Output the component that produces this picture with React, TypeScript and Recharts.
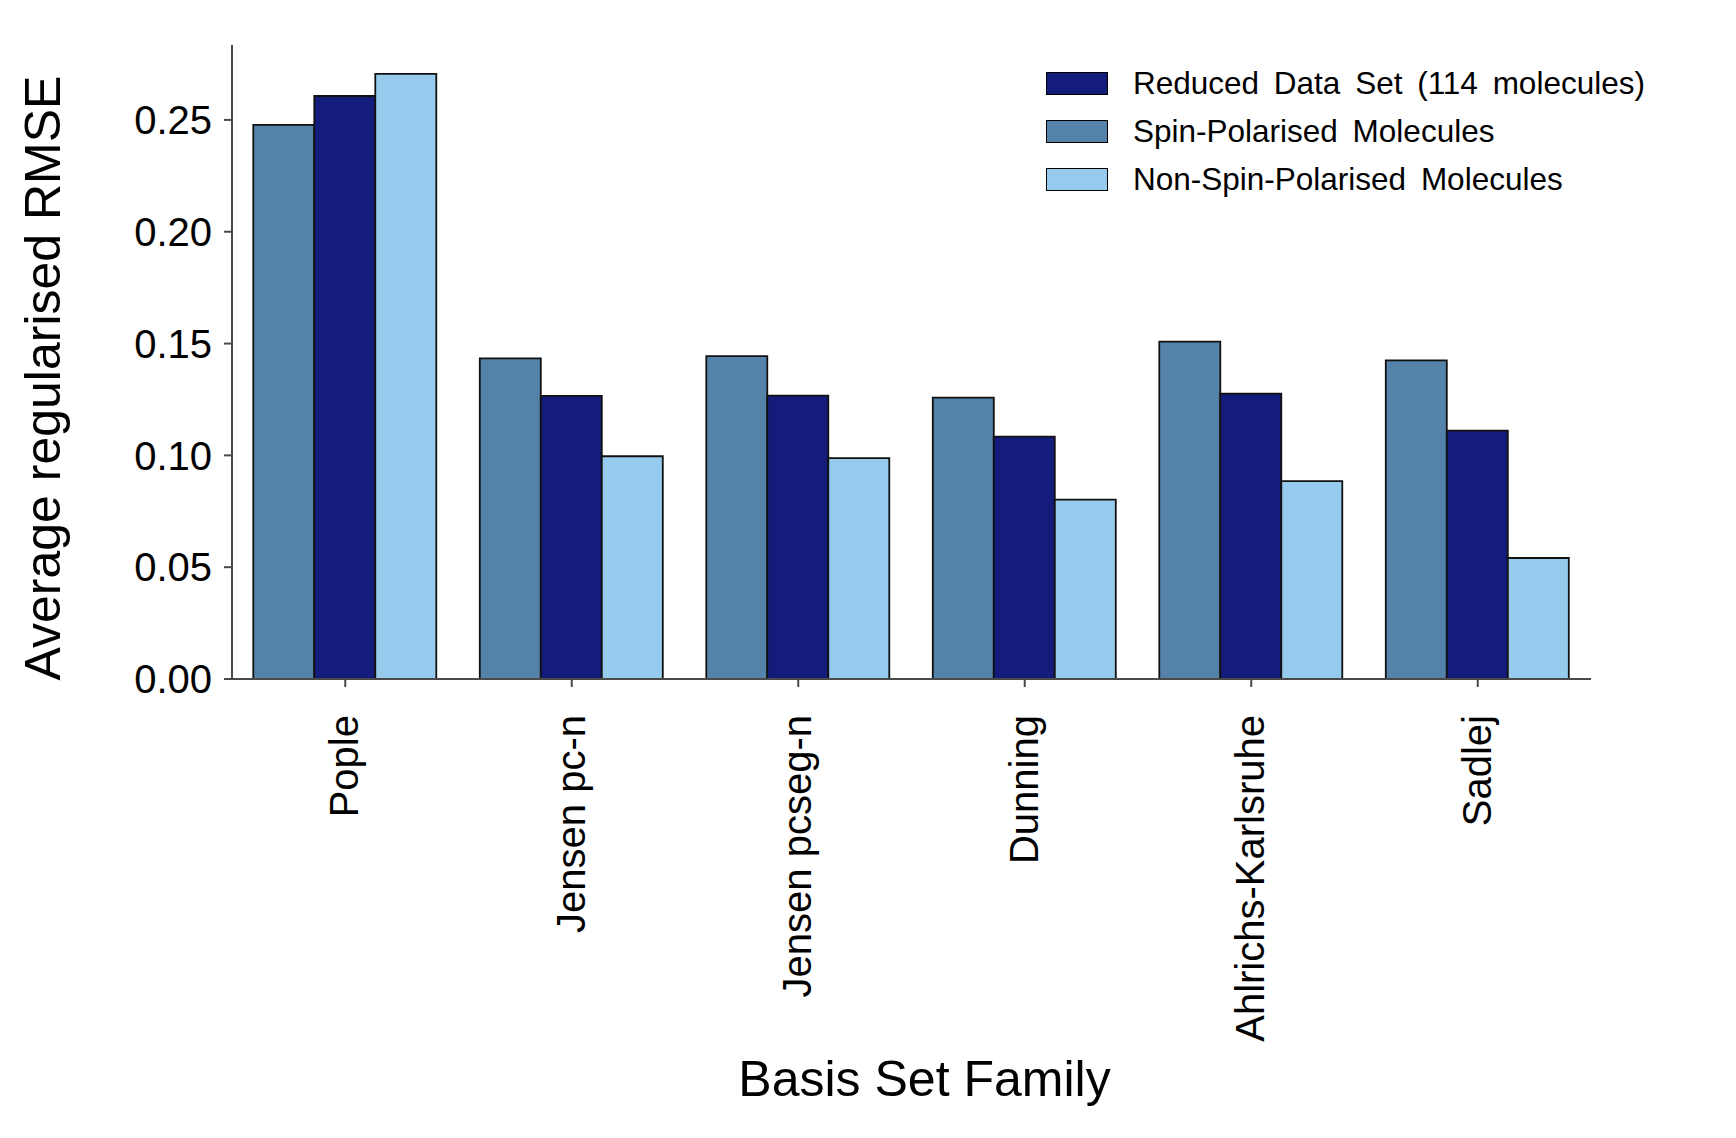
import React from "react";
import { BarChart, Bar, XAxis, YAxis, Label } from "recharts";

// Average regularised RMSE per basis set family, three subsets.
const families = ["Pople", "Jensen pc-n", "Jensen pcseg-n", "Dunning", "Ahlrichs-Karlsruhe", "Sadlej"];
const spinPolarised = [0.2478, 0.1434, 0.1444, 0.1258, 0.1509, 0.1425];
const reducedSet = [0.2607, 0.1266, 0.1267, 0.1084, 0.1276, 0.1111];
const nonSpinPolarised = [0.2706, 0.0996, 0.0988, 0.0802, 0.0885, 0.0541];
const yTicks = [0, 0.05, 0.1, 0.15, 0.2, 0.25];

const FONT = '"Liberation Sans", Arial, Helvetica, sans-serif';
const C_SPIN = "#5582a8";
const C_REDUCED = "#131c7b";
const C_NON = "#97cbed";
const AXIS = "#4a4a4a";

const data = families.map((name, i) => ({
  name,
  spin: spinPolarised[i],
  reduced: reducedSet[i],
  non: nonSpinPolarised[i],
}));

const legendItems = [
  { label: "Reduced Data Set (114 molecules)", color: C_REDUCED },
  { label: "Spin-Polarised Molecules", color: C_SPIN },
  { label: "Non-Spin-Polarised Molecules", color: C_NON },
];

function RotatedTick({ x, y, payload }: any) {
  return (
    <text
      x={x}
      y={y}
      dy="0.33em"
      transform={`rotate(-90 ${x} ${y})`}
      textAnchor="end"
      fontSize={40}
      fontFamily={FONT}
      fill="#000"
    >
      {payload.value}
    </text>
  );
}

// Legend drawn outside the chart so it does not eat into the plot area.
function LegendBox() {
  return (
    <div style={{ position: "absolute", left: 1038, top: 51, fontFamily: FONT }}>
      {legendItems.map((it) => (
        <div key={it.label} style={{ display: "flex", alignItems: "center", height: 48 }}>
          <span
            style={{
              display: "inline-block",
              width: 60,
              height: 21,
              background: it.color,
              border: "1.8px solid #000",
              marginRight: 25,
            }}
          />
          <span style={{ fontSize: 31.5, color: "#000", wordSpacing: 6, whiteSpace: "nowrap" }}>{it.label}</span>
        </div>
      ))}
    </div>
  );
}

export default function App() {
  return (
    <div style={{ position: "relative", width: 1720, height: 1130, background: "#fff" }}>
      <BarChart
        width={1720}
        height={1130}
        data={data}
        margin={{ top: 37, right: 137, bottom: 0, left: 0 }}
        barCategoryGap="9.4%"
        barGap={0}
      >
        <XAxis
          dataKey="name"
          height={459}
          interval={0}
          tick={<RotatedTick />}
          tickSize={8}
          tickMargin={28}
          axisLine={{ stroke: AXIS, strokeWidth: 2 }}
          tickLine={{ stroke: AXIS, strokeWidth: 2 }}
        >
          <Label
            content={({ viewBox }: any) => (
              <text
                x={viewBox.x + viewBox.width / 2 + 13}
                y={1088}
                textAnchor="middle"
                fontSize={50}
                fontFamily={FONT}
                fill="#000"
              >
                Basis Set Family
              </text>
            )}
          />
        </XAxis>
        <YAxis
          width={224}
          domain={[0, 0.2835]}
          ticks={yTicks}
          allowDataOverflow
          tickFormatter={(v: number) => v.toFixed(2)}
          tick={{ fontSize: 40, fontFamily: FONT, fill: "#000" }}
          tickSize={8}
          tickMargin={12}
          axisLine={{ stroke: AXIS, strokeWidth: 2 }}
          tickLine={{ stroke: AXIS, strokeWidth: 2 }}
        >
          <Label
            content={({ viewBox }: any) => {
              const cx = 52;
              const cy = viewBox.y + viewBox.height / 2 + 16;
              return (
                <text
                  x={cx}
                  y={cy}
                  transform={`rotate(-90 ${cx} ${cy})`}
                  textAnchor="middle"
                  fontSize={50}
                  fontFamily={FONT}
                  fill="#000"
                >
                  Average regularised RMSE
                </text>
              );
            }}
          />
        </YAxis>
        <Bar dataKey="spin" name="Spin-Polarised Molecules" fill={C_SPIN} stroke="#111" strokeWidth={1.8} isAnimationActive={false} />
        <Bar dataKey="reduced" name="Reduced Data Set (114 molecules)" fill={C_REDUCED} stroke="#111" strokeWidth={1.8} isAnimationActive={false} />
        <Bar dataKey="non" name="Non-Spin-Polarised Molecules" fill={C_NON} stroke="#111" strokeWidth={1.8} isAnimationActive={false} />
      </BarChart>
      <LegendBox />
    </div>
  );
}
